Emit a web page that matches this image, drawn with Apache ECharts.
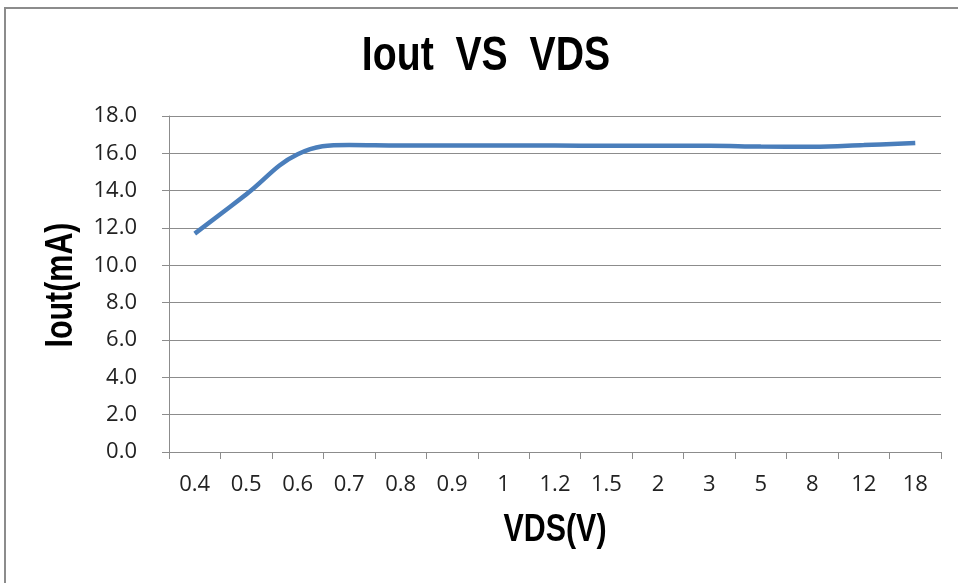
<!DOCTYPE html>
<html>
<head>
<meta charset="utf-8">
<script src="https://cdn.jsdelivr.net/npm/echarts@6/dist/echarts.min.js"></script>
<style>
html,body{margin:0;padding:0;background:#fff;}
#c{width:958px;height:583px;}
</style>
</head>
<body>
<div id="c"></div>
<script>
const categories = ['0.4','0.5','0.6','0.7','0.8','0.9','1','1.2','1.5','2','3','5','8','12','18'];
const ioutValues = [11.7, 13.8, 15.95, 16.45, 16.42, 16.42, 16.42, 16.42, 16.4, 16.4, 16.4, 16.36, 16.35, 16.44, 16.56];
const yTicks = { min: 0, max: 18, interval: 2 };
const titleText = 'Iout  VS  VDS';
const xName = 'VDS(V)';
const yName = 'Iout(mA)';

const boldFont = 'Liberation Sans, Arial, sans-serif';
const chart = echarts.init(document.getElementById('c'));
chart.setOption({
  animation: false,
  backgroundColor: '#fff',
  graphic: [
    {
      type: 'rect',
      shape: { x: 5, y: 8, width: 1000, height: 1000 },
      style: { fill: 'none', stroke: '#8c8c8c', lineWidth: 2 },
      silent: true, z: -1
    },
    {
      type: 'text', x: 486, y: 56, scaleX: 0.8,
      style: { text: titleText, font: 'bold 49px ' + boldFont, fill: '#000', align: 'center', verticalAlign: 'middle' }
    },
    {
      type: 'text', x: 555, y: 531, scaleX: 0.8,
      style: { text: xName, font: 'bold 38px ' + boldFont, fill: '#000', align: 'center', verticalAlign: 'middle' }
    },
    {
      type: 'text', x: 62, y: 285, rotation: Math.PI / 2, scaleX: 0.8,
      style: { text: yName, font: 'bold 38px ' + boldFont, fill: '#000', align: 'center', verticalAlign: 'middle' }
    }
  ],
  grid: { left: 169, right: 17, top: 116, bottom: 131 },
  xAxis: {
    type: 'category',
    data: categories,
    boundaryGap: true,
    axisLine: { lineStyle: { color: '#8c8c8c', width: 1 } },
    axisTick: { show: true, length: 7, lineStyle: { color: '#8c8c8c' } },
    axisLabel: { margin: 22, fontFamily: 'Open Sans', fontSize: 22, color: '#222' },
    splitLine: { show: false }
  },
  yAxis: {
    type: 'value',
    min: yTicks.min, max: yTicks.max, interval: yTicks.interval,
    axisLine: { show: true, lineStyle: { color: '#8c8c8c', width: 1 } },
    axisTick: { show: true, length: 7, lineStyle: { color: '#8c8c8c' } },
    axisLabel: { margin: 32, fontFamily: 'Open Sans', fontSize: 22, color: '#222', formatter: v => v.toFixed(1) },
    splitLine: { show: true, lineStyle: { color: '#8c8c8c', width: 1 } }
  },
  series: [{
    type: 'line',
    data: ioutValues,
    smooth: 0.4,
    symbol: 'none',
    lineStyle: { color: '#4a7ebb', width: 4.5 }
  }]
});
</script>
</body>
</html>
